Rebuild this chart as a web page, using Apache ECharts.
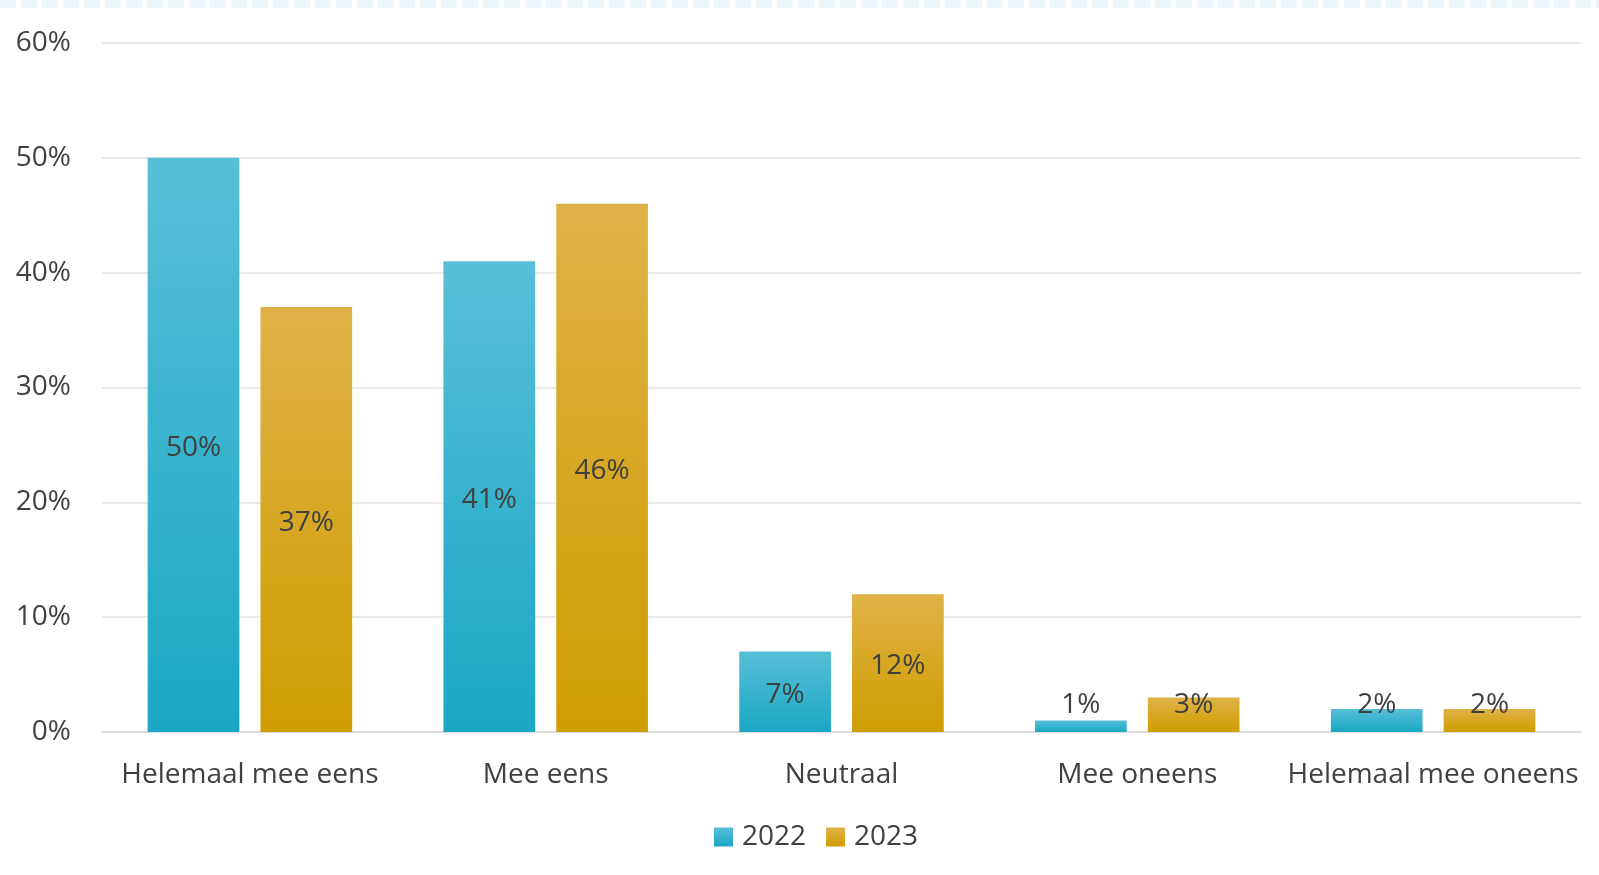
<!DOCTYPE html>
<html><head><meta charset="utf-8">
<script src="https://cdn.jsdelivr.net/npm/echarts@6/dist/echarts.min.js"></script>
<style>html,body{margin:0;padding:0;background:#fff}#c{width:1599px;height:875px}</style>
</head><body><div id="c"></div>
<script>
const categories = ['Helemaal mee eens','Mee eens','Neutraal','Mee oneens','Helemaal mee oneens'];
const values2022 = [50,41,7,1,2];
const values2023 = [37,46,12,3,2];
const seriesNames = ['2022','2023'];

const FONT = 'Open Sans';
const grad = (top, bottom) => new echarts.graphic.LinearGradient(0,0,0,1,[{offset:0,color:top},{offset:1,color:bottom}]);
const c22 = grad('#57bfd7','#1aa7c5');
const c23 = grad('#dfb248','#cf9d00');

function mk(vals){
  return vals.map(v => v < 5 ? {value:v, label:{position:'insideBottom', distance:16}} : v);
}
const labelCfg = {show:true, position:'inside', formatter:'{c}%', color:'#404040', fontSize:28, fontFamily:FONT, offset:[0,3]};

const chart = echarts.init(document.getElementById('c'));
chart.setOption({
  animation:false,
  textStyle:{fontFamily:FONT},
  graphic:[{type:'line', shape:{x1:0,y1:4,x2:1599,y2:4}, style:{stroke:'#ecf5fa', lineWidth:8, lineDash:[16,5]}}],
  grid:{left:102, right:18, top:43, bottom:143},
  legend:{data:seriesNames, left:709, top:818, itemWidth:19, itemHeight:19, itemGap:20,
    textStyle:{fontSize:28, color:'#404040', fontFamily:FONT, padding:[0,0,0,4]}, icon:'rect'},
  xAxis:{type:'category', data:categories, axisTick:{show:false},
    axisLine:{lineStyle:{color:'#d9d9d9', width:1.5}},
    axisLabel:{color:'#404040', fontSize:28, margin:29, fontFamily:FONT, interval:0}},
  yAxis:{type:'value', min:0, max:60, interval:10,
    axisLabel:{formatter:'{value}%', color:'#404040', fontSize:28, margin:31, fontFamily:FONT},
    splitLine:{lineStyle:{color:'#e2e2e2', width:1.5}}, axisLine:{show:false}, axisTick:{show:false}},
  series:[
    {name:seriesNames[0], type:'bar', data:mk(values2022), barWidth:'31%', barGap:'23%', itemStyle:{color:c22}, label:labelCfg},
    {name:seriesNames[1], type:'bar', data:mk(values2023), barWidth:'31%', itemStyle:{color:c23}, label:labelCfg}
  ]
});
</script></body></html>
